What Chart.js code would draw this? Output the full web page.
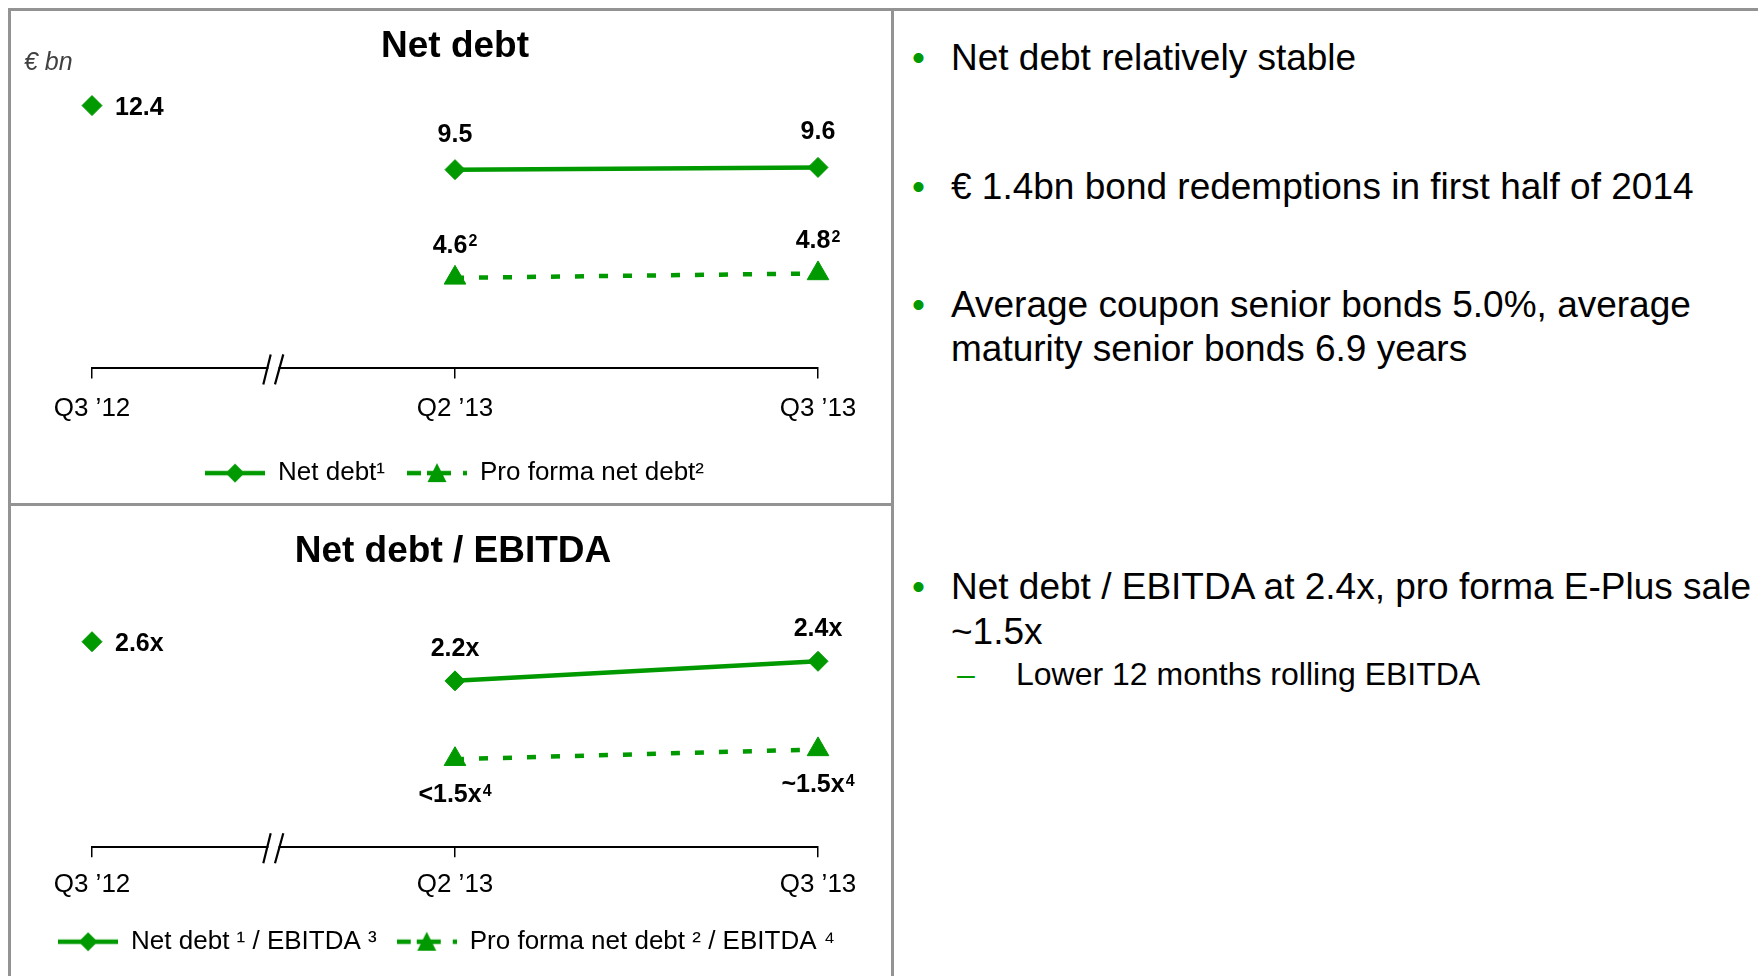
<!DOCTYPE html>
<html>
<head>
<meta charset="utf-8">
<title>Net debt</title>
<script src="https://cdn.jsdelivr.net/npm/chart.js@4.4.1/dist/chart.umd.min.js"></script>
<style>
  html, body { margin: 0; padding: 0; background: #fff; }
  body { width: 1758px; height: 976px; position: relative; overflow: hidden; font-family: 'Liberation Sans', Arial, sans-serif; }
  .rule { position: absolute; background: #939393; }
  canvas { position: absolute; left: 0; }
  .title { position: absolute; width: 600px; text-align: center; font: bold 37px/44px 'Liberation Sans', Arial, sans-serif; color: #000; }
  .unit { position: absolute; left: 24px; top: 46px; font: italic 25px/30px 'Liberation Sans', Arial, sans-serif; color: #404040; }
  .b { position: absolute; left: 951px; font-size: 37px; line-height: 44px; color: #000; white-space: nowrap; }
  .b .dot { position: absolute; left: -39px; top: 0; color: #009900; }
  .b.sub { left: 1016px; font-size: 32px; line-height: 40px; }
  .b.sub .dot { left: -59px; }
</style>
</head>
<body>
<div class="rule" style="left:8px;top:8px;width:1750px;height:3px"></div>
<div class="rule" style="left:8px;top:8px;width:3px;height:968px"></div>
<div class="rule" style="left:891px;top:8px;width:3px;height:968px"></div>
<div class="rule" style="left:8px;top:503px;width:883px;height:3px"></div>

<canvas id="debtChart" width="893" height="504" style="top:0"></canvas>
<canvas id="ratioChart" width="893" height="470" style="top:506px"></canvas>

<div class="title" style="left:155px;top:23px">Net debt</div>
<div class="unit">€ bn</div>
<div class="title" style="left:153px;top:528px">Net debt / EBITDA</div>

<div class="b" style="top:36px"><span class="dot">•</span>Net debt relatively stable</div>
<div class="b" style="top:165px"><span class="dot">•</span>€ 1.4bn bond redemptions in first half of 2014</div>
<div class="b" style="top:283px"><span class="dot">•</span>Average coupon senior bonds 5.0%, average<br>maturity senior bonds 6.9 years</div>
<div class="b" style="top:564px;line-height:45px"><span class="dot">•</span>Net debt / EBITDA at 2.4x, pro forma E-Plus sale<br>~1.5x</div>
<div class="b sub" style="top:654px"><span class="dot">–</span>Lower 12 months rolling EBITDA</div>

<script>
// data
var quarters = ['Q3 ’12', 'Q2 ’13', 'Q3 ’13'];
var netDebt = [12.4, 9.5, 9.6];
var proFormaNetDebt = [null, 4.6, 4.8];
var netDebtRatio = [2.6, 2.2, 2.4];
var proFormaRatio = [null, 1.4, 1.5];
var proFormaRatioText = [null, '<1.5x', '~1.5x'];
var debtLegend = ['Net debt¹', 'Pro forma net debt²'];
var ratioLegend = ['Net debt ¹ / EBITDA ³', 'Pro forma net debt ² / EBITDA ⁴'];

var GREEN = '#009900';
var FONT = "'Liberation Sans', Arial, sans-serif";
Chart.defaults.font.family = FONT;
Chart.defaults.color = '#000';

// small line+marker picture used as legend symbol
function legendIcon(dashed) {
  var c = document.createElement('canvas');
  c.width = 60; c.height = 24;
  var g = c.getContext('2d');
  g.strokeStyle = GREEN; g.fillStyle = GREEN; g.lineWidth = 4.5;
  if (dashed) g.setLineDash([14, 6, 24, 12, 4, 100]);
  g.beginPath(); g.moveTo(0, 12); g.lineTo(60, 12); g.stroke();
  g.beginPath();
  if (dashed) {
    g.moveTo(30, 2); g.lineTo(39.5, 21); g.lineTo(20.5, 21);
  } else {
    g.moveTo(30, 2.5); g.lineTo(39.5, 12); g.lineTo(30, 21.5); g.lineTo(20.5, 12);
  }
  g.closePath(); g.fill();
  return c;
}
var icons = [legendIcon(false), legendIcon(true)];

function drawLabel(ctx, text, sup, x, y, align) {
  var size = 25, supSize = 16, cap = 0.716;
  ctx.save();
  ctx.fillStyle = '#000';
  ctx.textBaseline = 'alphabetic';
  ctx.textAlign = 'left';
  ctx.font = 'bold ' + size + 'px ' + FONT;
  var w = ctx.measureText(text).width;
  ctx.font = 'bold ' + supSize + 'px ' + FONT;
  var ws = sup ? ctx.measureText(sup).width + 1 : 0;
  var left = align === 'left' ? x : x - (w + ws) / 2;
  var base = y + size * cap / 2;
  ctx.font = 'bold ' + size + 'px ' + FONT;
  ctx.fillText(text, left, base);
  if (sup) {
    ctx.font = 'bold ' + supSize + 'px ' + FONT;
    ctx.fillText(sup, left + w + 1, base - size * cap + supSize * cap);
  }
  ctx.restore();
}

// value labels next to the points
function labelPlugin(sets) {
  return {
    id: 'valueLabels',
    afterDatasetsDraw: function (chart) {
      sets.forEach(function (set, di) {
        var meta = chart.getDatasetMeta(di);
        meta.data.forEach(function (pt, i) {
          var text = set.texts[i];
          if (text == null) return;
          var x = pt.x, y = pt.y, align = 'center';
          if (i === 0) { x += 23; align = 'left'; }
          else y += set.dy;
          drawLabel(chart.ctx, text, set.sup, x, y, align);
        });
      });
    }
  };
}

// "//" break on the time axis between Q3 '12 and Q2 '13
var axisBreak = {
  id: 'axisBreak',
  afterDraw: function (chart) {
    var ctx = chart.ctx;
    var bx = chart.scales.x.getPixelForValue(0.5);
    var by = chart.chartArea.bottom;
    ctx.save();
    ctx.fillStyle = '#fff';
    ctx.fillRect(bx - 5, by - 3, 10, 6);
    ctx.strokeStyle = '#000';
    ctx.lineWidth = 2.2;
    ctx.beginPath();
    ctx.moveTo(bx - 10.2, by + 16); ctx.lineTo(bx - 2.8, by - 14);
    ctx.moveTo(bx + 1.5, by + 16); ctx.lineTo(bx + 9.8, by - 14);
    ctx.stroke();
    ctx.restore();
  }
};

function makeChart(id, cfg) {
  return new Chart(document.getElementById(id), {
    type: 'line',
    data: {
      labels: quarters,
      datasets: [{
        data: cfg.main,
        borderColor: GREEN,
        backgroundColor: GREEN,
        borderWidth: 4.5,
        pointStyle: 'rectRot',
        pointRadius: 10,
        pointBorderWidth: 1,
        pointBackgroundColor: GREEN,
        pointBorderColor: GREEN,
        clip: false,
        segment: {
          borderColor: function (c) { return c.p0DataIndex === 0 ? 'rgba(0,0,0,0)' : undefined; }
        }
      }, {
        data: cfg.proForma,
        borderColor: GREEN,
        backgroundColor: GREEN,
        borderWidth: 4.5,
        borderDash: [9, 15],
        pointStyle: 'triangle',
        pointRadius: 12.5,
        pointBorderWidth: 1,
        pointBackgroundColor: GREEN,
        pointBorderColor: GREEN,
        clip: false
      }]
    },
    options: {
      responsive: false,
      animation: false,
      events: [],
      layout: { padding: cfg.padding },
      plugins: {
        title: { display: false },
        tooltip: { enabled: false },
        legend: {
          position: 'bottom',
          labels: {
            usePointStyle: true,
            pointStyleWidth: 60,
            padding: cfg.legendPad,
            color: '#000',
            font: { size: 26 },
            generateLabels: function () {
              return cfg.legend.map(function (t, i) {
                return { text: t, pointStyle: icons[i], fillStyle: GREEN, strokeStyle: GREEN, lineWidth: 0, hidden: false, datasetIndex: i, fontColor: '#000' };
              });
            }
          }
        }
      },
      scales: {
        x: {
          offset: false,
          grid: { display: true, drawOnChartArea: false, drawTicks: true, tickLength: 10, color: '#000', lineWidth: 1.5 },
          border: { display: true, color: '#000', width: 2 },
          ticks: { padding: cfg.tickPad, color: '#000', font: { size: 26 }, maxRotation: 0, autoSkip: false },
          afterFit: function (s) { s.height += cfg.extra; }
        },
        y: {
          min: cfg.min,
          max: cfg.max,
          ticks: { display: false },
          grid: { display: false },
          border: { display: false },
          afterFit: function (s) { s.width = cfg.leftW; }
        },
        yR: {
          type: 'linear',
          position: 'right',
          min: 0,
          max: 1,
          ticks: { display: false },
          grid: { display: false },
          border: { display: false },
          afterFit: function (s) { s.width = cfg.rightW; }
        }
      }
    },
    plugins: [labelPlugin(cfg.labels), axisBreak]
  });
}

makeChart('debtChart', {
  main: netDebt,
  proForma: proFormaNetDebt,
  min: 0.5, max: 14.5,
  padding: { top: 59.2, left: 20, right: 4, bottom: 7.9 },
  leftW: 72, rightW: 71,
  tickPad: 15.2, extra: -1.9, legendPad: 22,
  legend: debtLegend,
  labels: [
    { texts: netDebt.map(function (v) { return v.toFixed(1); }), dy: -37 },
    { texts: proFormaNetDebt.map(function (v) { return v == null ? null : v.toFixed(1); }), sup: '2', dy: -34 }
  ]
});

makeChart('ratioChart', {
  main: netDebtRatio,
  proForma: proFormaRatio,
  min: 0.5, max: 3.5,
  padding: { top: 47.6, left: 8, right: 8, bottom: 11.3 },
  leftW: 84, rightW: 67,
  tickPad: 12.1, extra: -4.0, legendPad: 20,
  legend: ratioLegend,
  labels: [
    { texts: netDebtRatio.map(function (v) { return v.toFixed(1) + 'x'; }), dy: -34 },
    { texts: proFormaRatioText, sup: '4', dy: 34 }
  ]
});
</script>
</body>
</html>
